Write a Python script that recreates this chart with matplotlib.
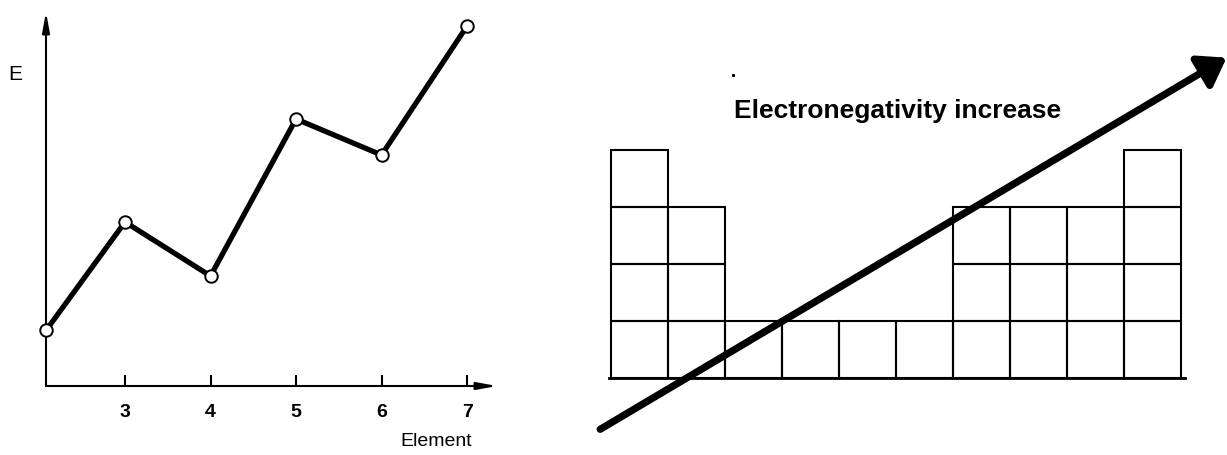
""" energy vs element and electronegativity trend sketch """
import matplotlib
matplotlib.use("Agg")
from matplotlib import pyplot as plt
from matplotlib import patches

plt.rcParams["font.family"] = ["Liberation Sans", "DejaVu Sans"]

# data: left panel
elements = [2.08, 3, 4, 5, 6, 7]
energy = [0.56, 1.64, 1.10, 2.67, 2.31, 3.60]
tick_elements = [3, 4, 5, 6, 7]

# data: right panel (number of filled rows per column of the table sketch)
column_heights = [4, 3, 1, 1, 1, 1, 3, 3, 3, 4]
title_text = "Electronegativity increase"

W, H = 1227, 455
fig = plt.figure(figsize=(W / 100, H / 100), dpi=100)

# ---- left panel ----
ax = fig.add_axes([46 / W, (H - 386) / H, (497 - 46) / W, (386 - 12) / H])
ax.set_xlim(2.076, 7.35)
ax.set_ylim(0, 3.74)
for s in ax.spines.values():
    s.set_visible(False)

# axis arrows
_arrow = dict(arrowstyle="-|>,head_length=1.2,head_width=0.22", lw=1.5, color="black",
              shrinkA=0, shrinkB=0)
ax.annotate("", xy=(1, 0), xytext=(0, 0), xycoords="axes fraction", arrowprops=_arrow)
ax.annotate("", xy=(0, 1), xytext=(0, 0), xycoords="axes fraction", arrowprops=_arrow)

ax.plot(elements, energy, color="black", lw=3.8, zorder=3, clip_on=False)
ax.plot(elements, energy, "o", ms=9, mfc="white", mec="black", mew=1.4, zorder=4,
        clip_on=False)

ax.set_xticks(tick_elements)
ax.set_xticklabels([str(t) for t in tick_elements], fontweight="bold", fontsize=14)
ax.tick_params(axis="x", direction="in", length=8, width=1.5, pad=13)
ax.set_yticks([])
fig.text(15 / W, 1 - 75 / H, "E", fontsize=15, ha="center", va="center")
fig.text(436 / W, 1 - 442 / H, "Element", fontsize=14, ha="center", va="center")

# ---- right panel ----
ax2 = fig.add_axes([583 / W, 0, (W - 583) / W, 1])
ax2.set_xlim((583 - 611) / 57, (W - 611) / 57)
ax2.set_ylim((378 - H) / 57, 378 / 57)
ax2.axis("off")

for col, h in enumerate(column_heights):
    for row in range(h):
        ax2.add_patch(patches.Rectangle((col, row), 1, 1, facecolor="none",
                                        edgecolor="black", lw=1.5))
ax2.plot([-0.04, len(column_heights) + 0.07], [0, 0], color="black", lw=2)

ax2.annotate("", xy=(10.8, 5.62), xytext=(-0.19, -0.9),
             arrowprops=dict(arrowstyle="-|>,head_length=0.8,head_width=0.55",
                             lw=5.2, color="black", shrinkA=0, shrinkB=0,
                             mutation_scale=20, capstyle="round", joinstyle="round"))
ax2.text(5.02, 4.68, title_text, fontsize=19, fontweight="bold", ha="center",
         va="center")
ax2.plot([2.14], [5.32], marker="s", ms=1.2, color="black")

fig.savefig("out.png", dpi=100)
